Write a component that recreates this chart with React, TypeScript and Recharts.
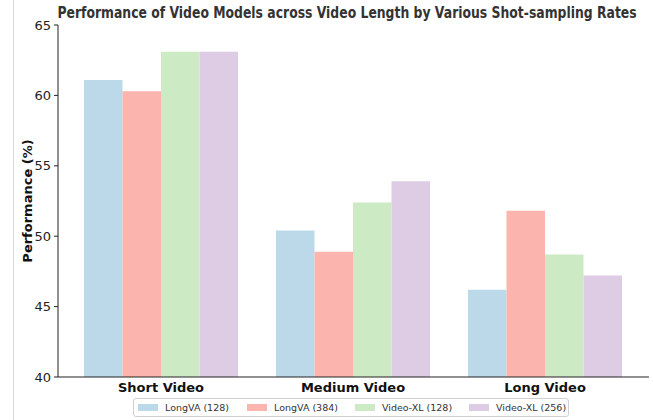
import { BarChart, Bar, XAxis, YAxis } from 'recharts';

const categories = ['Short Video', 'Medium Video', 'Long Video'];
const seriesNames = ['LongVA (128)', 'LongVA (384)', 'Video-XL (128)', 'Video-XL (256)'];
const longva128 = [61.1, 50.4, 46.2];
const longva384 = [60.3, 48.9, 51.8];
const videoxl128 = [63.1, 52.4, 48.7];
const videoxl256 = [63.1, 53.9, 47.2];
const yTicks = [40, 45, 50, 55, 60, 65];

const COLORS = ['#bcd9ea', '#fbb4ae', '#ccebc5', '#decbe4'];
const KEYS = ['s0', 's1', 's2', 's3'];
const LEGEND_X = [4, 113, 221, 335];

const data = categories.map((name, i) => ({
  name,
  s0: longva128[i],
  s1: longva384[i],
  s2: videoxl128[i],
  s3: videoxl256[i],
}));

const FONT = '"DejaVu Sans", sans-serif';

export default function App() {
  return (
    <div style={{ position: 'absolute', left: 0, top: 0, width: 653, height: 420, background: '#fff', fontFamily: FONT, overflow: 'hidden' }}>
      {/* page edge line */}
      <div style={{ position: 'absolute', left: 13, top: 0, width: 1, height: 420, background: '#d8d8d8' }} />

      <div
        style={{
          position: 'absolute', left: 347, top: 4, transform: 'translateX(-50%) scaleX(0.8)',
          fontSize: 15.5, fontWeight: 'bold', color: '#333', whiteSpace: 'nowrap',
        }}
      >
        Performance of Video Models across Video Length by Various Shot-sampling Rates
      </div>

      <div
        style={{
          position: 'absolute', left: 27, top: 201, transform: 'translate(-50%, -50%) rotate(-90deg)',
          fontSize: 13, fontWeight: 'bold', color: '#111', whiteSpace: 'nowrap',
        }}
      >
        Performance (%)
      </div>

      <BarChart
        width={653}
        height={420}
        data={data}
        margin={{ top: 25, right: 4, bottom: 0, left: 0 }}
        barGap={0}
        barSize={38.5}
        style={{ position: 'absolute', left: 0, top: 0 }}
      >
        <XAxis
          dataKey="name"
          padding={{ left: 7, right: 8 }}
          axisLine={{ stroke: '#222', strokeWidth: 1 }}
          tickLine={false}
          tick={{ fontSize: 13, fontWeight: 'bold', fill: '#111', fontFamily: FONT }}
          tickMargin={0}
          height={43}
        />
        <YAxis
          domain={[40, 65]}
          ticks={yTicks}
          allowDataOverflow
          width={58}
          axisLine={{ stroke: '#222', strokeWidth: 1 }}
          tickLine={{ stroke: '#222' }}
          tickSize={4}
          tickMargin={3}
          tick={{ fontSize: 13, fill: '#222', fontFamily: FONT }}
        />
        {KEYS.map((k, i) => (
          <Bar key={k} dataKey={k} name={seriesNames[i]} fill={COLORS[i]} isAnimationActive={false} />
        ))}
      </BarChart>

      {/* legend */}
      <div
        style={{
          position: 'absolute', left: 133, top: 398, width: 436, height: 19, boxSizing: 'border-box',
          border: '1px solid #d0d0d0', borderRadius: 3, fontSize: 9.5, color: '#333',
        }}
      >
        {seriesNames.map((n, i) => (
          <div key={n} style={{ position: 'absolute', left: LEGEND_X[i], top: 0, height: 17, display: 'flex', alignItems: 'center', whiteSpace: 'nowrap' }}>
            <span style={{ display: 'inline-block', width: 20, height: 7, background: COLORS[i], marginRight: 7 }} />
            <span>{n}</span>
          </div>
        ))}
      </div>
    </div>
  );
}
